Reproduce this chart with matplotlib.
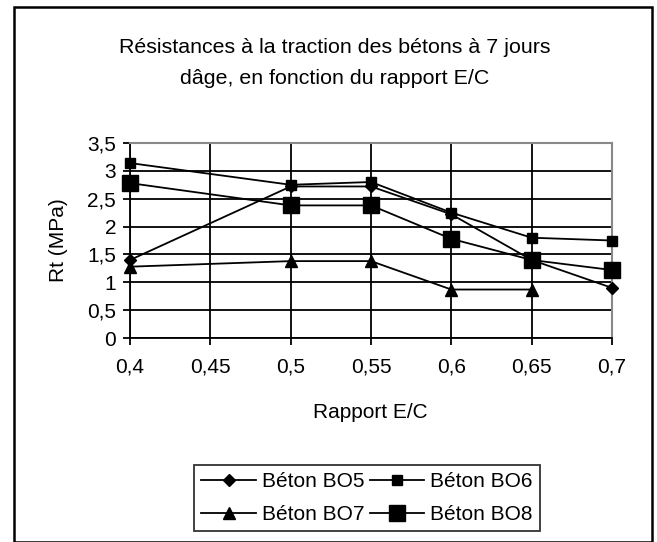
import matplotlib.pyplot as plt
from matplotlib.patches import Rectangle

plt.rcParams['font.family'] = ['Liberation Sans', 'DejaVu Sans']

# rapport E/C
ec = [0.4, 0.5, 0.55, 0.6, 0.65, 0.7]
ec_bo7 = [0.4, 0.5, 0.55, 0.6, 0.65]

# résistances à la traction (MPa)
bo5 = [1.4, 2.72, 2.72, 2.22, 1.4, 0.9]
bo6 = [3.14, 2.75, 2.8, 2.25, 1.8, 1.75]
bo7 = [1.28, 1.38, 1.38, 0.87, 0.87]
bo8 = [2.78, 2.38, 2.38, 1.78, 1.4, 1.22]

xticks = [0.4, 0.45, 0.5, 0.55, 0.6, 0.65, 0.7]
xlabels = ["0,4", "0,45", "0,5", "0,55", "0,6", "0,65", "0,7"]
yticks = [0, 0.5, 1, 1.5, 2, 2.5, 3, 3.5]
ylabels = ["0", "0,5", "1", "1,5", "2", "2,5", "3", "3,5"]

fig = plt.figure(figsize=(6.57, 5.42), dpi=100)
ax = fig.add_axes([130 / 657, 1 - 338 / 542, (612 - 130) / 657, (338 - 143) / 542])

lw = 1.3
l5, = ax.plot(ec, bo5, color="black", lw=lw, marker="D", ms=6.5, label="Béton BO5", zorder=3, clip_on=False)
l6, = ax.plot(ec, bo6, color="black", lw=lw, marker="s", ms=6.5, label="Béton BO6", zorder=3, clip_on=False)
l7, = ax.plot(ec_bo7, bo7, color="black", lw=lw, marker="^", ms=9, label="Béton BO7", zorder=3, clip_on=False)
l8, = ax.plot(ec, bo8, color="black", lw=lw, marker="s", ms=11.5, label="Béton BO8", zorder=3, clip_on=False)

ax.set_xlim(0.4, 0.7)
ax.set_ylim(0, 3.5)
ax.set_xticks(xticks)
ax.set_xticklabels(xlabels)
ax.set_yticks(yticks)
ax.set_yticklabels(ylabels)
ax.tick_params(labelsize=15, length=5, width=1.3, direction="out", color="black")
ax.tick_params(axis="x", pad=9)
ax.tick_params(axis="y", pad=5)
ax.grid(True, color="black", lw=1.3)
ax.set_axisbelow(True)
for s in ["top", "right"]:
    ax.spines[s].set_color("#888888")
    ax.spines[s].set_linewidth(1.5)
for s in ["left", "bottom"]:
    ax.spines[s].set_color("black")
    ax.spines[s].set_linewidth(1.3)

ax.set_xlabel("Rapport E/C", fontsize=15)
ax.set_ylabel("Rt (MPa)", fontsize=15)
ax.xaxis.set_label_coords(0.5 + (370 - 371) / 482, -(412.7 - 338) / 195)
ax.yaxis.set_label_coords(-(130 - 58) / 482, 0.5)
ax.xaxis.label.set_va("center")
ax.yaxis.label.set_va("center")

fig.text(335 / 657, 1 - 63 / 542, "Résistances à la traction des bétons à 7 jours\ndâge, en fonction du rapport E/C",
         ha="center", va="center", fontsize=15.4, linespacing=1.75)

leg = fig.legend([l5, l7, l6, l8], ["Béton BO5", "Béton BO7", "Béton BO6", "Béton BO8"],
                 loc="center", bbox_to_anchor=(367 / 657, 1 - 498 / 542), ncol=2, fontsize=15,
                 frameon=True, fancybox=False, edgecolor="black", handlelength=2.6,
                 handletextpad=0.3, columnspacing=0.25, borderpad=0.35, labelspacing=0.68)
leg.get_frame().set_linewidth(1.3)

fig.patches.append(Rectangle((14 / 657, 0.5 / 542), (652 - 14) / 657, (535 - 0.5) / 542,
                             transform=fig.transFigure, fill=False, edgecolor="black", lw=1.8))

fig.savefig("out.png", dpi=100)
